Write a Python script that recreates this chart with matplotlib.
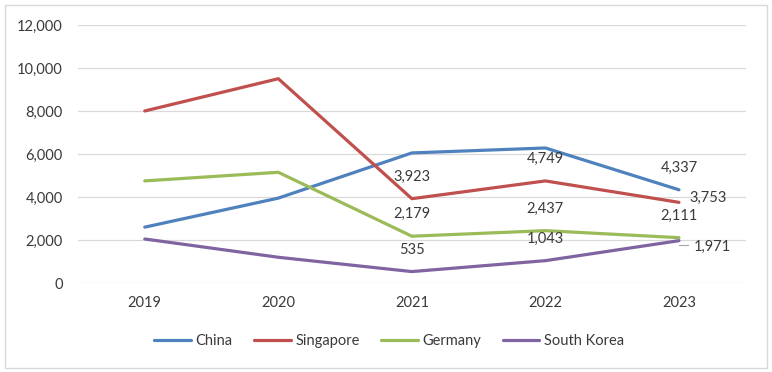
import matplotlib
matplotlib.use('Agg')
import matplotlib.pyplot as plt
from matplotlib.patches import Rectangle
from matplotlib.ticker import FuncFormatter

# Data
years = ['2019', '2020', '2021', '2022', '2023']
china = [2600, 3950, 6050, 6280, 4337]
singapore = [8000, 9500, 3923, 4749, 3753]
germany = [4750, 5150, 2179, 2437, 2111]
south_korea = [2050, 1200, 535, 1043, 1971]

series_names = ['China', 'Singapore', 'Germany', 'South Korea']
series_values = [china, singapore, germany, south_korea]
colors = ['#4F81BD', '#C0504D', '#9BBB59', '#8064A2']

# which points carry a data label (series index -> year indices)
labelled = {0: [4], 1: [2, 3, 4], 2: [2, 3, 4], 3: [2, 3, 4]}

plt.rcParams['font.family'] = ['Lato', 'DejaVu Sans']
TEXT = '#3a3a3a'

fig = plt.figure(figsize=(7.72, 3.72), dpi=100)
ax = fig.add_axes([0.101, 0.239, 0.865, 0.694])

x = list(range(len(years)))
for name, vals, c in zip(series_names, series_values, colors):
    ax.plot(x, vals, color=c, linewidth=2.3, label=name, solid_capstyle='round', zorder=3)

# data labels
for si, idxs in labelled.items():
    vals = series_values[si]
    for i in idxs:
        txt = f'{vals[i]:,}'
        if i == 4 and si == 1:
            ax.annotate(txt, (x[i], vals[i]), xytext=(10, 4), textcoords='offset pixels',
                        ha='left', va='center', fontsize=10.5, color=TEXT, zorder=4)
        elif i == 4 and si == 3:
            ax.annotate(txt, (x[i], vals[i]), xytext=(15, -6), textcoords='offset pixels',
                        ha='left', va='center', fontsize=10.5, color=TEXT, zorder=4)
            # small leader line
            ax.plot([x[i], x[i] + 0.07], [vals[i] - 180, vals[i] - 180],
                    color='#A6A6A6', linewidth=0.8, zorder=2)
        else:
            ax.annotate(txt, (x[i], vals[i]), xytext=(0, 22), textcoords='offset pixels',
                        ha='center', va='center', fontsize=10.5, color=TEXT, zorder=4)

ax.set_xlim(-0.5, len(years) - 0.5)
ax.set_ylim(0, 12000)
ax.set_yticks(range(0, 12001, 2000))
ax.yaxis.set_major_formatter(FuncFormatter(lambda v, p: f'{int(v):,}'))
ax.set_xticks(x)
ax.set_xticklabels(years)
ax.tick_params(axis='both', length=0, labelsize=10.5, colors=TEXT)
ax.tick_params(axis='y', pad=11)
ax.tick_params(axis='x', pad=9)
ax.grid(axis='y', color='#D9D9D9', linewidth=0.9)
ax.set_axisbelow(True)
for s in ax.spines.values():
    s.set_visible(False)

fig.legend(loc='center', bbox_to_anchor=(0.504, 0.083), ncol=4, frameon=False,
           fontsize=10.5, handlelength=2.5, handletextpad=0.3, columnspacing=1.5,
           labelcolor=TEXT)

fig.patches.append(Rectangle((0.006, 0.012), 0.988, 0.975, transform=fig.transFigure,
                             fill=False, edgecolor='#D9D9D9', linewidth=1))

fig.savefig('out.png', dpi=100, facecolor='white')
